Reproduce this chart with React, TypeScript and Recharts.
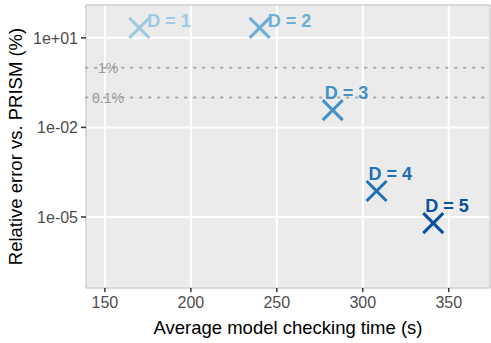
import { ScatterChart, Scatter, XAxis, YAxis, CartesianGrid, ReferenceLine, ReferenceArea } from 'recharts';

const labels = ['D = 1', 'D = 2', 'D = 3', 'D = 4', 'D = 5'];
const times = [170, 240, 282.5, 308, 341];
const errors = [21.5, 21.5, 0.038, 7.4e-5, 6.2e-6];
const colors = ['#9ecae1', '#6baed6', '#4292c6', '#2171b5', '#08519c'];

const xTicks = [150, 200, 250, 300, 350];
const yTicks = [1e-5, 1e-2, 1e1];
const xDomain = [139, 374];
const yDomain = [Math.pow(10, -7.38), Math.pow(10, 2.1)];

const refLines = [1, 0.1];
const refLabels = ['1%', '0.1%'];

const data = labels.map((label, i) => ({ label, time: times[i], error: errors[i], color: colors[i], idx: i }));

const font = 'Liberation Sans, Arial, sans-serif';

const fmtY = (v: number) => {
  const e = Math.round(Math.log10(v));
  const sign = e < 0 ? '-' : '+';
  return `1e${sign}${String(Math.abs(e)).padStart(2, '0')}`;
};

function Cross(props: any) {
  const { cx, cy, payload } = props;
  if (cx == null || cy == null) return null;
  const r = 10;
  // first two labels sit to the right, the rest above the marker
  const right = payload.idx < 2;
  const tx = right ? cx + 8 : cx - 8;
  const ty = right ? cy - 1 : cy - 11;
  return (
    <g>
      <line x1={cx - r} y1={cy - r} x2={cx + r} y2={cy + r} stroke={payload.color} strokeWidth={3} />
      <line x1={cx - r} y1={cy + r} x2={cx + r} y2={cy - r} stroke={payload.color} strokeWidth={3} />
      <text x={tx} y={ty} fill={payload.color} fontSize={18} fontWeight="bold" fontFamily={font}>
        {payload.label}
      </text>
    </g>
  );
}

const refLabel = (text: string) => (p: any) => {
  const vb = p.viewBox;
  return (
    <text x={vb.x + 22} y={vb.y + 5} textAnchor="middle" fill="#999" fontSize={14} fontFamily={font}>
      {text}
    </text>
  );
};

export default function App() {
  return (
    <div style={{ position: 'fixed', left: 0, top: 0, background: '#fff' }}>
      <ScatterChart width={491} height={343} margin={{ top: 5, right: 1, left: 0, bottom: 0 }}>
        <CartesianGrid fill="#ebebeb" stroke="#ffffff" strokeWidth={2} />
        <ReferenceArea x1={xDomain[0]} x2={xDomain[1]} y1={yDomain[0]} y2={yDomain[1]} fill="none" stroke="#b3b3b3" strokeWidth={1} ifOverflow="visible" />
        <XAxis
          type="number"
          dataKey="time"
          domain={xDomain}
          ticks={xTicks}
          allowDataOverflow
          height={55}
          axisLine={false}
          tickSize={4}
          tickMargin={5}
          tickLine={{ stroke: '#333', strokeWidth: 1.5 }}
          tick={{ fill: '#4d4d4d', fontSize: 16, fontFamily: font }}
          label={{ value: 'Average model checking time (s)', position: 'insideBottom', offset: 9, fill: '#000', fontSize: 18.5, fontFamily: font }}
        />
        <YAxis
          type="number"
          dataKey="error"
          scale="log"
          domain={yDomain}
          ticks={yTicks}
          allowDataOverflow
          width={86}
          axisLine={false}
          tickSize={5}
          tickMargin={3}
          tickLine={{ stroke: '#333', strokeWidth: 1.5 }}
          tickFormatter={fmtY}
          tick={{ fill: '#4d4d4d', fontSize: 16, fontFamily: font }}
          label={{ value: 'Relative error vs. PRISM (%)', angle: -90, position: 'insideLeft', offset: 15, style: { textAnchor: 'middle' }, fill: '#000', fontSize: 18.5, fontFamily: font }}
        />
        {refLines.map((v, i) => (
          <ReferenceLine
            key={v}
            y={v}
            stroke="#aaaaaa"
            strokeWidth={2}
            strokeDasharray="1.5 7.5"
            strokeLinecap="round"
            label={refLabel(refLabels[i])}
          />
        ))}
        <Scatter data={data} shape={Cross} isAnimationActive={false} />
      </ScatterChart>
    </div>
  );
}
